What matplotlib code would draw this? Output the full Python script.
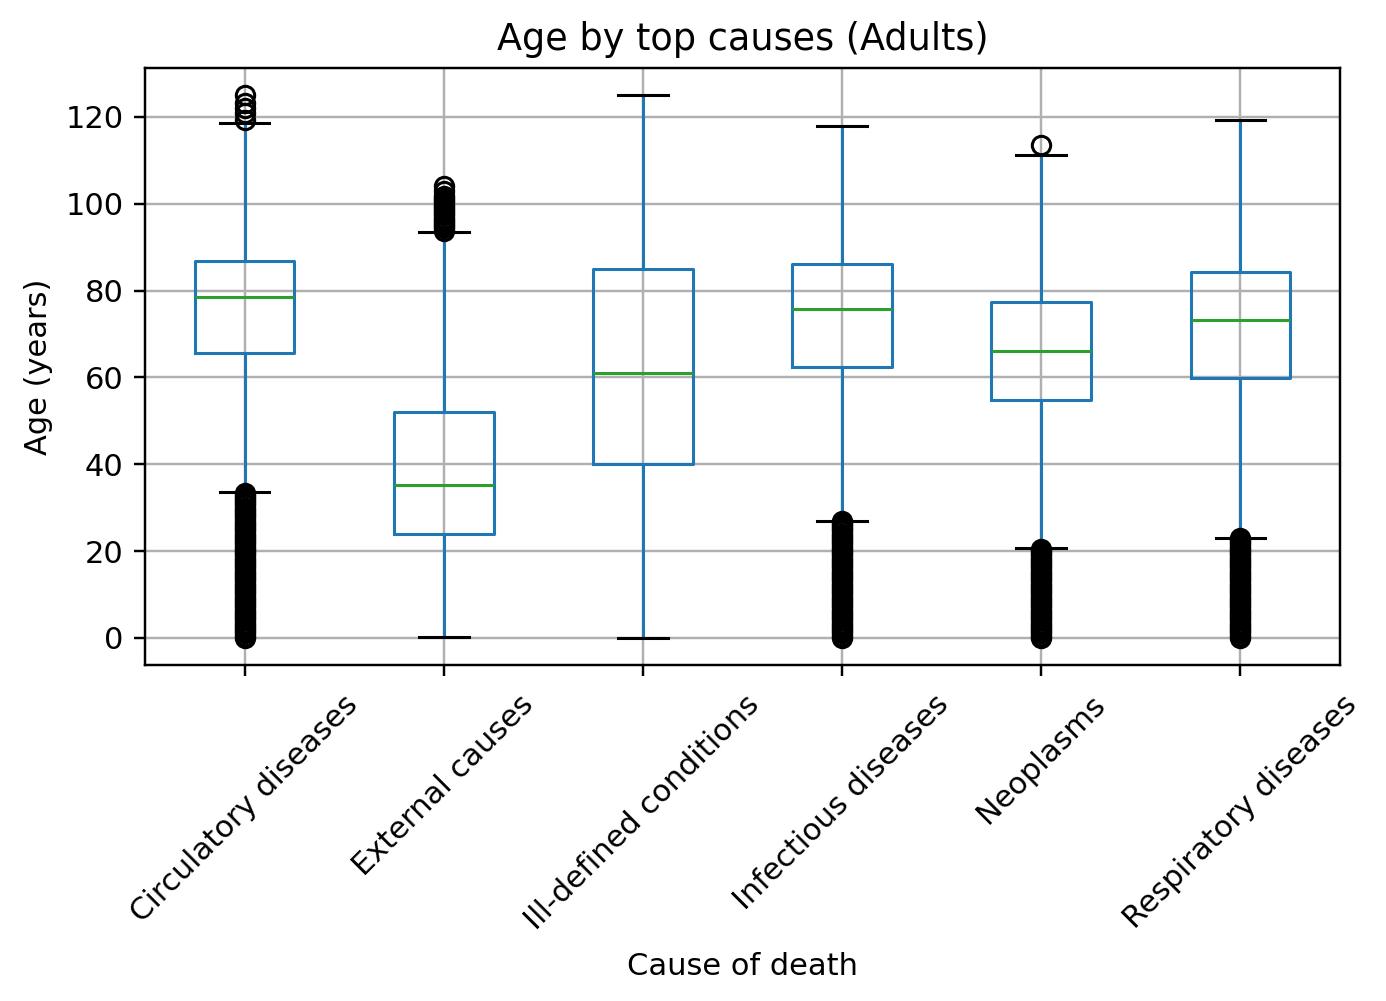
import matplotlib
matplotlib.use("Agg")
import matplotlib.pyplot as plt

causes = [
    "Circulatory diseases",
    "External causes",
    "Ill-defined conditions",
    "Infectious diseases",
    "Neoplasms",
    "Respiratory diseases",
]

# box summary (years)
whisker_low = [33.6, 0.2, 0.0, 27.0, 20.6, 23.0]
q1 = [65.7, 23.9, 40.0, 62.5, 54.7, 59.8]
median = [78.4, 35.2, 61.1, 75.8, 66.1, 73.2]
q3 = [86.9, 52.0, 85.0, 86.1, 77.3, 84.3]
whisker_high = [118.7, 93.5, 125.0, 117.8, 111.3, 119.2]

# outlying ages (the low ones are so many they merge into a solid bar)
circulatory_fliers = [
    0, 0.5, 1, 1.5, 2, 2.5, 3, 3.5, 4, 4.5, 5, 5.5, 6, 6.5, 7, 7.5, 8, 8.5,
    9, 9.5, 10, 10.5, 11, 11.5, 12, 12.5, 13, 13.5, 14, 14.5, 15, 15.5, 16,
    16.5, 17, 17.5, 18, 18.5, 19, 19.5, 20, 20.5, 21, 21.5, 22, 22.5, 23,
    23.5, 24, 24.5, 25, 25.5, 26, 26.5, 27, 27.5, 28, 28.5, 29, 29.5, 30,
    30.5, 31, 31.5, 32, 32.5, 33, 33.4,
    119.3, 120.8, 122, 123.3, 125,
]
external_fliers = [
    93.8, 94.3, 94.8, 95.3, 95.8, 96.3, 96.8, 97.3, 97.8, 98.3, 98.8, 99.3,
    99.8, 100.3, 100.8, 101.3, 101.8, 103, 104,
]
illdefined_fliers = []
infectious_fliers = [
    0, 0.5, 1, 1.5, 2, 2.5, 3, 3.5, 4, 4.5, 5, 5.5, 6, 6.5, 7, 7.5, 8, 8.5,
    9, 9.5, 10, 10.5, 11, 11.5, 12, 12.5, 13, 13.5, 14, 14.5, 15, 15.5, 16,
    16.5, 17, 17.5, 18, 18.5, 19, 19.5, 20, 20.5, 21, 21.5, 22, 22.5, 23,
    23.5, 24, 24.5, 25, 25.5, 26, 26.5, 26.9,
]
neoplasm_fliers = [
    0, 0.5, 1, 1.5, 2, 2.5, 3, 3.5, 4, 4.5, 5, 5.5, 6, 6.5, 7, 7.5, 8, 8.5,
    9, 9.5, 10, 10.5, 11, 11.5, 12, 12.5, 13, 13.5, 14, 14.5, 15, 15.5, 16,
    16.5, 17, 17.5, 18, 18.5, 19, 19.5, 20, 20.5,
    113.5,
]
respiratory_fliers = [
    0, 0.5, 1, 1.5, 2, 2.5, 3, 3.5, 4, 4.5, 5, 5.5, 6, 6.5, 7, 7.5, 8, 8.5,
    9, 9.5, 10, 10.5, 11, 11.5, 12, 12.5, 13, 13.5, 14, 14.5, 15, 15.5, 16,
    16.5, 17, 17.5, 18, 18.5, 19, 19.5, 20, 20.5, 21, 21.5, 22, 22.5, 22.9,
]
fliers = [
    circulatory_fliers,
    external_fliers,
    illdefined_fliers,
    infectious_fliers,
    neoplasm_fliers,
    respiratory_fliers,
]

stats = []
for i, name in enumerate(causes):
    stats.append({
        "label": name,
        "whislo": whisker_low[i],
        "q1": q1[i],
        "med": median[i],
        "q3": q3[i],
        "whishi": whisker_high[i],
        "fliers": fliers[i],
    })

fig, ax = plt.subplots(figsize=(6.3, 4.55), dpi=220)
ax.bxp(
    stats,
    boxprops=dict(color="C0"),
    whiskerprops=dict(color="C0"),
    medianprops=dict(color="C2"),
    capprops=dict(color="k"),
    flierprops=dict(marker="o", markeredgecolor="k", markerfacecolor="none"),
)
ax.grid(True)
ax.set_axisbelow(True)
ax.set_title("Age by top causes (Adults)")
ax.set_xlabel("Cause of death", labelpad=5.5)
ax.set_ylabel("Age (years)")
ax.tick_params(axis="x", pad=4.5)
plt.setp(ax.get_xticklabels(), rotation=45)

fig.subplots_adjust(left=0.1046, right=0.9668, top=0.932, bottom=0.3357)
fig.savefig("out.png", dpi=220)
